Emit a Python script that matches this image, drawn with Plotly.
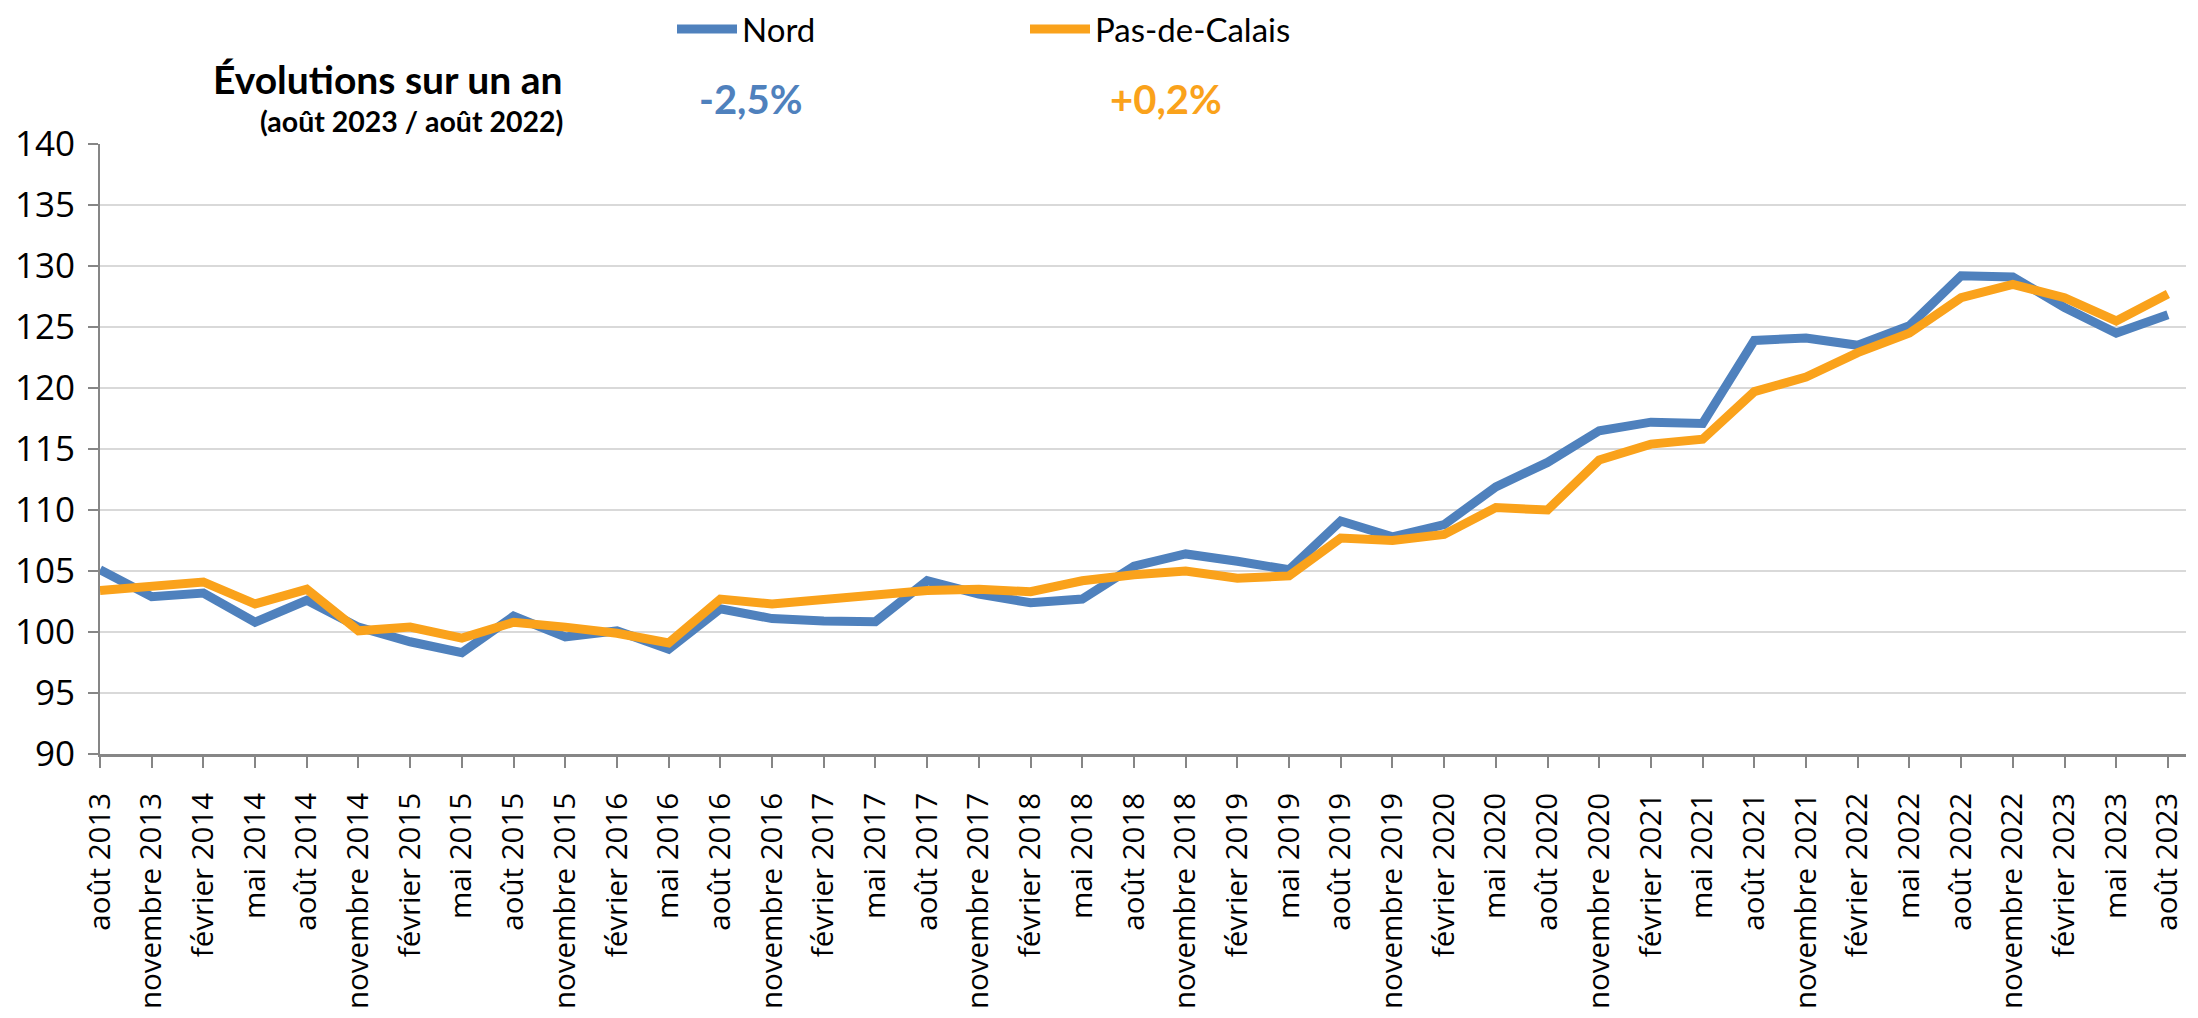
import plotly.graph_objects as go

labels = [
    "août 2013", "novembre 2013", "février 2014", "mai 2014",
    "août 2014", "novembre 2014", "février 2015", "mai 2015",
    "août 2015", "novembre 2015", "février 2016", "mai 2016",
    "août 2016", "novembre 2016", "février 2017", "mai 2017",
    "août 2017", "novembre 2017", "février 2018", "mai 2018",
    "août 2018", "novembre 2018", "février 2019", "mai 2019",
    "août 2019", "novembre 2019", "février 2020", "mai 2020",
    "août 2020", "novembre 2020", "février 2021", "mai 2021",
    "août 2021", "novembre 2021", "février 2022", "mai 2022",
    "août 2022", "novembre 2022", "février 2023", "mai 2023",
    "août 2023",
]

nord = [
    105.1, 102.9, 103.2, 100.8, 102.6, 100.4, 99.2, 98.3,
    101.3, 99.6, 100.1, 98.6, 101.9, 101.1, 100.9, 100.85,
    104.2, 103.1, 102.4, 102.7, 105.4, 106.4, 105.8, 105.1,
    109.1, 107.8, 108.8, 111.9, 113.9, 116.5, 117.2, 117.1,
    123.9, 124.1, 123.5, 125.1, 129.2, 129.1, 126.6, 124.5,
    126.0,
]

pas_de_calais = [
    103.4, 103.7, 104.1, 102.3, 103.5, 100.1, 100.4, 99.5,
    100.8, 100.4, 99.9, 99.1, 102.7, 102.3, 102.7, 103.0,
    103.4, 103.5, 103.3, 104.2, 104.7, 105.0, 104.4, 104.6,
    107.7, 107.5, 108.0, 110.2, 110.0, 114.1, 115.4, 115.8,
    119.7, 120.9, 122.9, 124.5, 127.4, 128.5, 127.4, 125.5,
    127.7,
]

y_ticks = [90, 95, 100, 105, 110, 115, 120, 125, 130, 135, 140]

evol_nord = "-2,5%"
evol_pdc = "+0,2%"

BLUE = "#4F81BD"
ORANGE = "#FAA21B"

# page body has an 8px margin; size the figure so it fits the window
OFF = 8
W, H = 2182, 1002
L, R, T, B = 92, 4, 136, 256
pw = W - L - R
ph = H - T - B


def px(x):
    """page pixel x -> paper fraction"""
    return (x - OFF - L) / pw


def py(y):
    """page pixel y -> paper fraction"""
    return (H - B - (y - OFF)) / ph


xs = list(range(len(labels)))

fig = go.Figure()
fig.add_trace(go.Scatter(
    x=xs, y=nord, name="Nord", mode="lines",
    line=dict(color=BLUE, width=9, shape="linear"),
    cliponaxis=False,
))
fig.add_trace(go.Scatter(
    x=xs, y=pas_de_calais, name="Pas-de-Calais", mode="lines",
    line=dict(color=ORANGE, width=9, shape="linear"),
    cliponaxis=False,
))

title_font = "Lato, 'Open Sans', sans-serif"

fig.add_annotation(
    xref="paper", yref="paper", x=px(565), y=py(79),
    xanchor="right", yanchor="middle", showarrow=False,
    text="<b>Évolutions sur un an</b>",
    font=dict(family=title_font, size=39, color="#000000"),
)
fig.add_annotation(
    xref="paper", yref="paper", x=px(565), y=py(121),
    xanchor="right", yanchor="middle", showarrow=False,
    text="<b>(août 2023 / août 2022)</b>",
    font=dict(family=title_font, size=28.5, color="#000000"),
)
fig.add_annotation(
    xref="paper", yref="paper", x=px(750), y=py(99),
    xanchor="center", yanchor="middle", showarrow=False,
    text=f"<b>{evol_nord}</b>",
    font=dict(family=title_font, size=40, color=BLUE),
)
fig.add_annotation(
    xref="paper", yref="paper", x=px(1166), y=py(99),
    xanchor="center", yanchor="middle", showarrow=False,
    text=f"<b>{evol_pdc}</b>",
    font=dict(family=title_font, size=40, color=ORANGE),
)

fig.update_layout(
    width=W, height=H,
    margin=dict(l=L, r=R, t=T, b=B, pad=0, autoexpand=False),
    paper_bgcolor="white", plot_bgcolor="white",
    showlegend=True,
    legend=dict(
        orientation="h",
        x=px(672), xanchor="left",
        y=py(29), yanchor="middle",
        font=dict(family=title_font, size=33, color="#000000"),
        itemwidth=60,
        entrywidth=278, entrywidthmode="pixels",
        bgcolor="rgba(0,0,0,0)",
        borderwidth=0,
    ),
    xaxis=dict(
        range=[0, 40.35],
        tickmode="array", tickvals=xs, ticktext=labels,
        tickangle=-90,
        tickfont=dict(family="'Open Sans', sans-serif", size=29.5, color="#000000"),
        ticks="outside", ticklen=11, tickwidth=2, tickcolor="#868686",
        showline=True, linecolor="#868686", linewidth=3,
        showgrid=False, zeroline=False,
        ticklabelstandoff=13,
        automargin=False,
    ),
    yaxis=dict(
        range=[90, 140],
        tickmode="array", tickvals=y_ticks,
        tickfont=dict(family="'Liberation Sans Narrow', 'Open Sans', sans-serif", size=35, color="#000000"),
        ticks="outside", ticklen=10, tickwidth=2, tickcolor="#868686",
        showline=True, linecolor="#868686", linewidth=2,
        showgrid=True, gridcolor="#D9D9D9", gridwidth=2,
        zeroline=False,
        ticklabelstandoff=6,
        automargin=False,
    ),
)

fig.write_html("out.html")
